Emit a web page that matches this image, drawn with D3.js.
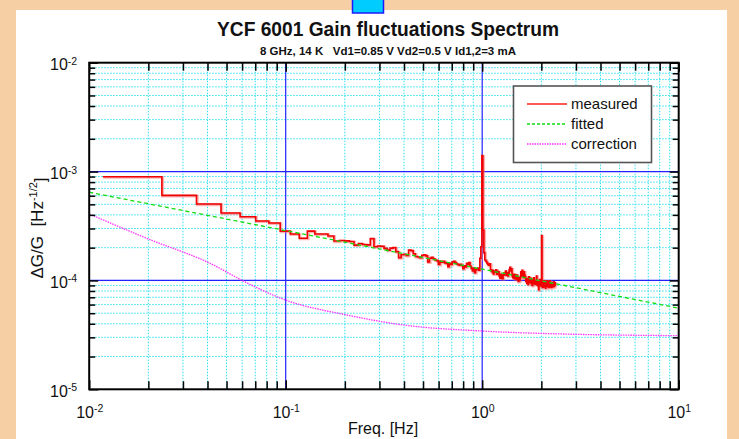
<!DOCTYPE html>
<html>
<head>
<meta charset="utf-8">
<script src="https://cdn.jsdelivr.net/npm/d3@7"></script>
<style>
  html, body { margin: 0; padding: 0; background: #f7cfa4; }
  svg { display: block; }
  text { font-family: "Liberation Sans", Arial, Helvetica, sans-serif; fill: #111; }
</style>
</head>
<body>
<svg id="chart" width="739" height="439"></svg>
<script>
// ---- chart text ----
const titleText = "YCF 6001 Gain fluctuations Spectrum";
const subtitleText = "8 GHz, 14 K   Vd1=0.85 V Vd2=0.5 V Id1,2=3 mA";
const xLabel = "Freq. [Hz]";
const legendLabels = ["measured", "fitted", "correction"];

// ---- axes ----
const xDomain = [0.01, 10];
const yDomain = [1e-5, 1e-2];
const xDecades = [-2, -1, 0, 1];
const yDecades = [-5, -4, -3, -2];

// ---- measured spectrum: one value per frequency bin (bin k sits at k * freqStep), in units of 1e-4 ----
const freqStep = 0.01172;
const measuredE4 = [
  8.97, 6.05, 5.03, 4.16, 3.85, 3.52, 3.37, 2.84, 2.67, 2.44,
  2.84, 2.67, 2.67, 2.56, 2.30, 2.33, 2.31, 2.28, 2.11, 2.18,
  2.14, 2.12, 2.42, 2.04, 2.07, 2.06, 1.97, 1.90, 1.98, 2.00,
  1.84, 1.62, 1.72, 1.74, 1.70, 1.90, 1.88, 1.76, 1.66, 1.64,
  1.62, 1.70, 1.72, 1.68, 1.48, 1.60, 1.63, 1.58, 1.54, 1.52,
  1.40, 1.50, 1.47, 1.50, 1.45, 1.43, 1.34, 1.44, 1.40, 1.48,
  1.50, 1.46, 1.42, 1.40, 1.38, 1.41, 1.37, 1.28, 1.36, 1.33,
  1.44, 1.40, 1.46, 1.35, 1.29, 1.22, 1.30, 1.18, 1.25, 1.27,
  1.30, 1.24, 1.60, 2.04, 14.0, 2.90, 1.80, 1.54, 1.50, 1.45,
  1.40, 1.38, 1.42, 1.25, 1.20, 1.24, 1.15, 1.22, 1.19, 1.25,
  1.14, 1.21, 1.20, 1.10, 1.05, 1.14, 1.08, 1.04, 1.12, 1.17,
  1.13, 1.22, 1.12, 1.18, 1.10, 1.16, 1.26, 1.32, 1.22, 1.28,
  1.10, 1.06, 1.14, 1.04, 1.13, 1.08, 1.02, 1.12, 1.03, 0.98,
  1.07, 1.00, 1.06, 1.20, 1.10, 1.24, 1.14, 1.06, 1.20, 1.12,
  1.08, 0.98, 1.04, 0.94, 1.02, 0.92, 1.08, 0.96, 1.01, 1.05,
  0.94, 1.00, 0.90, 1.03, 0.96, 1.06, 0.93, 1.00, 0.92, 0.99,
  1.10, 0.95, 0.90, 0.98, 0.82, 0.94, 1.02, 0.91, 0.97, 0.88,
  2.58, 0.95, 0.86, 0.98, 0.90, 0.99, 0.87, 0.95, 0.85, 0.96,
  0.99, 0.88, 0.93, 0.98, 0.86, 0.95, 0.90, 0.99, 0.87, 0.94,
  0.86, 0.96, 0.89, 0.95, 0.87, 0.93, 0.97, 0.88, 0.92, 0.95,
  0.90
];

// ---- fitted power law (straight in log-log) ----
const fittedFreq = [0.01, 0.1, 1, 10];
const fittedVal  = [6.46e-4, 2.87e-4, 1.27e-4, 5.56e-5];

// ---- correction curve ----
const correctionFreq = [0.01, 0.0196, 0.0428, 0.06, 0.1, 0.204, 0.396, 1.0, 2.59, 10];
const correctionVal  = [4.08e-4, 2.44e-4, 1.39e-4, 1.0e-4, 6.6e-5, 4.82e-5, 3.9e-5, 3.43e-5, 3.22e-5, 3.11e-5];

// ---- layout ----
const W = 739, H = 439;
const plot = { left: 89.2, right: 678.7, top: 62.7, bottom: 389.3 };

const svg = d3.select("#chart");

// page background and white panel
svg.append("rect").attr("x", 0).attr("y", 0).attr("width", W).attr("height", H).attr("fill", "#f7cfa4");
svg.append("rect").attr("x", 16).attr("y", 10).attr("width", 711).attr("height", H - 10).attr("fill", "#ffffff");
svg.append("rect").attr("x", 352.5).attr("y", -2).attr("width", 31).attr("height", 15)
   .attr("fill", "#00ccff").attr("stroke", "#1a1aff").attr("stroke-width", 1.5);

const x = d3.scaleLog().domain(xDomain).range([plot.left, plot.right]);
const y = d3.scaleLog().domain(yDomain).range([plot.bottom, plot.top]);

// minor / major tick values per decade
function minorValues(decades) {
  const out = [];
  for (let i = 0; i < decades.length - 1; i++) {
    const base = Math.pow(10, decades[i]);
    for (let m = 2; m <= 9; m++) out.push(m * base);
  }
  return out;
}
const xMajor = xDecades.map(e => Math.pow(10, e));
const yMajor = yDecades.map(e => Math.pow(10, e));
const xMinor = minorValues(xDecades);
const yMinor = minorValues(yDecades);

// ---- grid ----
const grid = svg.append("g");
grid.selectAll("line.vmin").data(xMinor).join("line")
  .attr("x1", d => x(d)).attr("x2", d => x(d))
  .attr("y1", plot.top).attr("y2", plot.bottom)
  .attr("stroke", "#2fe0f0").attr("stroke-width", 1).attr("stroke-dasharray", "1.5,1.5");
grid.selectAll("line.hmin").data(yMinor).join("line")
  .attr("y1", d => y(d)).attr("y2", d => y(d))
  .attr("x1", plot.left).attr("x2", plot.right)
  .attr("stroke", "#2fe0f0").attr("stroke-width", 1).attr("stroke-dasharray", "1.5,1.5");
grid.selectAll("line.vmaj").data(xMajor.slice(1, -1)).join("line")
  .attr("x1", d => x(d)).attr("x2", d => x(d))
  .attr("y1", plot.top).attr("y2", plot.bottom)
  .attr("stroke", "#2222ff").attr("stroke-width", 1.2);
grid.selectAll("line.hmaj").data(yMajor.slice(1, -1)).join("line")
  .attr("y1", d => y(d)).attr("y2", d => y(d))
  .attr("x1", plot.left).attr("x2", plot.right)
  .attr("stroke", "#2222ff").attr("stroke-width", 1.2);

// ---- curves ----
svg.append("clipPath").attr("id", "plotClip").append("rect")
  .attr("x", plot.left).attr("y", plot.top)
  .attr("width", plot.right - plot.left).attr("height", plot.bottom - plot.top);
const curves = svg.append("g").attr("clip-path", "url(#plotClip)");

const measuredPts = measuredE4.map((v, i) => [(i + 1) * freqStep, v * 1e-4]);
measuredPts.push([(measuredE4.length + 1) * freqStep, measuredE4[measuredE4.length - 1] * 1e-4]);
const stepLine = d3.line().x(d => x(d[0])).y(d => y(d[1])).curve(d3.curveStepAfter);
curves.append("path").attr("d", stepLine(measuredPts))
  .attr("fill", "none").attr("stroke", "#ff6a6a").attr("stroke-opacity", 0.5).attr("stroke-width", 2.8)
  .attr("transform", "translate(0.8,0.7)");
curves.append("path").attr("d", stepLine(measuredPts))
  .attr("fill", "none").attr("stroke", "#f00000").attr("stroke-width", 1.6);

const line = d3.line().x(d => x(d[0])).y(d => y(d[1]));
curves.append("path").attr("d", line(fittedFreq.map((f, i) => [f, fittedVal[i]])))
  .attr("fill", "none").attr("stroke", "#11dd11").attr("stroke-width", 1.3).attr("stroke-dasharray", "4,3");
curves.append("path")
  .attr("d", line.curve(d3.curveMonotoneX)(correctionFreq.map((f, i) => [f, correctionVal[i]])))
  .attr("fill", "none").attr("stroke", "#ff33ff").attr("stroke-width", 1.3).attr("stroke-dasharray", "1.5,1");

// ---- axes (ticks inside the frame) ----
function supLabel(sel, anchor) {
  sel.selectAll(".tick text").each(function (d) {
    const t = d3.select(this);
    const e = Math.round(Math.log10(d));
    t.text(null).attr("text-anchor", anchor).style("font-size", "16px");
    t.append("tspan").text("10");
    t.append("tspan").attr("dy", "-0.55em").style("font-size", "10.5px").text(String(e));
  });
}
function styleAxis(g) {
  g.select(".domain").remove();
  g.selectAll(".tick line").attr("stroke", "#000").attr("stroke-width", 1.5);
}

const axLeftMaj = svg.append("g").attr("transform", `translate(${plot.left},0)`)
  .call(d3.axisLeft(y).tickValues(yMajor).tickSizeInner(-9).tickSizeOuter(0).tickPadding(12));
styleAxis(axLeftMaj);
supLabel(axLeftMaj, "end");
axLeftMaj.selectAll(".tick text").attr("dy", "0.45em");

const axLeftMin = svg.append("g").attr("transform", `translate(${plot.left},0)`)
  .call(d3.axisLeft(y).tickValues(yMinor).tickSizeInner(-6).tickSizeOuter(0).tickFormat(""));
styleAxis(axLeftMin);

const axRightMaj = svg.append("g").attr("transform", `translate(${plot.right},0)`)
  .call(d3.axisRight(y).tickValues(yMajor).tickSizeInner(-9).tickSizeOuter(0).tickFormat(""));
styleAxis(axRightMaj);
const axRightMin = svg.append("g").attr("transform", `translate(${plot.right},0)`)
  .call(d3.axisRight(y).tickValues(yMinor).tickSizeInner(-6).tickSizeOuter(0).tickFormat(""));
styleAxis(axRightMin);

const axBottomMaj = svg.append("g").attr("transform", `translate(0,${plot.bottom})`)
  .call(d3.axisBottom(x).tickValues(xMajor).tickSizeInner(-9).tickSizeOuter(0).tickPadding(14));
styleAxis(axBottomMaj);
supLabel(axBottomMaj, "middle");
axBottomMaj.selectAll(".tick text").attr("dy", "0.9em");

const axBottomMin = svg.append("g").attr("transform", `translate(0,${plot.bottom})`)
  .call(d3.axisBottom(x).tickValues(xMinor).tickSizeInner(-8).tickSizeOuter(0).tickFormat(""));
styleAxis(axBottomMin);

const axTopMaj = svg.append("g").attr("transform", `translate(0,${plot.top})`)
  .call(d3.axisTop(x).tickValues(xMajor).tickSizeInner(-9).tickSizeOuter(0).tickFormat(""));
styleAxis(axTopMaj);
const axTopMin = svg.append("g").attr("transform", `translate(0,${plot.top})`)
  .call(d3.axisTop(x).tickValues(xMinor).tickSizeInner(-8).tickSizeOuter(0).tickFormat(""));
styleAxis(axTopMin);

// frame
svg.append("rect")
  .attr("x", plot.left).attr("y", plot.top)
  .attr("width", plot.right - plot.left).attr("height", plot.bottom - plot.top)
  .attr("fill", "none").attr("stroke", "#000").attr("stroke-width", 2);

// ---- legend ----
const legend = svg.append("g");
legend.append("rect").attr("x", 513.5).attr("y", 86).attr("width", 138).attr("height", 76.5)
  .attr("fill", "#fff").attr("stroke", "#555").attr("stroke-width", 1.6);
const legendStyles = [
  { stroke: "#ff2020", dash: null },
  { stroke: "#11dd11", dash: "3,2" },
  { stroke: "#ff33ff", dash: "1.5,1" }
];
legendLabels.forEach((label, i) => {
  const yy = 104 + i * 20;
  legend.append("line").attr("x1", 527).attr("x2", 567).attr("y1", yy).attr("y2", yy)
    .attr("stroke", legendStyles[i].stroke).attr("stroke-width", 1.3)
    .attr("stroke-dasharray", legendStyles[i].dash);
  legend.append("text").attr("x", 571).attr("y", yy + 5).style("font-size", "15px").text(label);
});

// ---- titles ----
svg.append("text").attr("x", 388).attr("y", 36).attr("text-anchor", "middle")
  .attr("textLength", 342).attr("lengthAdjust", "spacingAndGlyphs")
  .style("font-size", "20px").style("font-weight", "bold").text(titleText);
svg.append("text").attr("x", 388).attr("y", 55).attr("text-anchor", "middle")
  .attr("textLength", 256).attr("lengthAdjust", "spacingAndGlyphs")
  .style("font-size", "10.5px").style("font-weight", "bold").style("white-space", "pre").text(subtitleText);

svg.append("text").attr("x", 383).attr("y", 434).attr("text-anchor", "middle")
  .style("font-size", "16px").text(xLabel);

const yLab = svg.append("text")
  .attr("transform", "translate(43,228) rotate(-90)")
  .attr("text-anchor", "middle").style("font-size", "17px").style("white-space", "pre");
yLab.append("tspan").text("\u0394G/G  [Hz");
yLab.append("tspan").attr("dy", "-0.55em").style("font-size", "11px").text("-1/2");
yLab.append("tspan").attr("dy", "0.55em").text("]");
</script>
</body>
</html>
